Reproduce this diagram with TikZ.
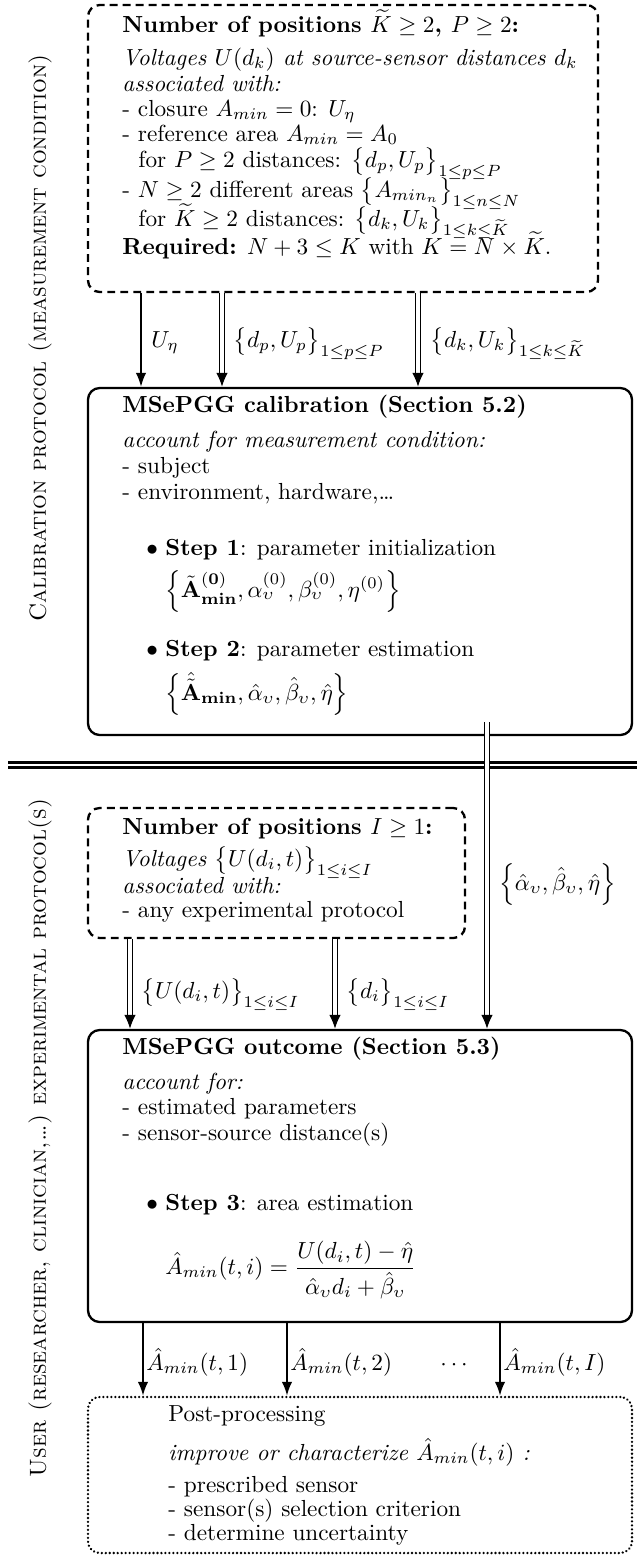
\documentclass[tikz,border=0pt]{standalone}
\usepackage{amsmath,amssymb}
\usetikzlibrary{arrows.meta,fit,calc}
\begin{document}
\begin{tikzpicture}[x=0.43pt,y=-0.43pt,
 dashbox/.style={draw, line width=1pt, dash pattern=on 3.4pt off 2.2pt, rounded corners=5pt, inner sep=0pt},
 solidbox/.style={draw, line width=1pt, rounded corners=5pt, inner sep=0pt},
 dotbox/.style={draw, line width=1.1pt, dash pattern=on 0.01pt off 1.7pt, line cap=round, rounded corners=5pt, inner sep=0pt},
 txt/.style={anchor=base west, inner sep=0pt},
 arr/.style={line width=0.8pt, -{Latex[length=6pt,width=4.5pt]}},
 dbl/.style={double, double distance=1.3pt, line width=0.65pt, -{Latex[length=6pt,width=5pt]}},
 sepline/.style={double, double distance=1pt, line width=1.2pt},
 side/.style={rotate=90, inner sep=0pt}]
\useasboundingbox (0,0) rectangle (637,1557);

% ---------- boxes ----------
\node[dashbox, fit={(88,5) (598,292)}] (top) {};
\node[solidbox, fit={(88,388) (632,735)}] (calib) {};
\node[dashbox, fit={(88,808) (465,938)}] (exp) {};
\node[solidbox, fit={(88,1030) (632,1322)}] (out) {};
\node[dotbox, fit={(88,1397) (632,1553)}] (post) {};

% ---------- side labels ----------
\node[side] (s1) at (40,338) {\textsc{Calibration protocol (measurement condition)}};
\node[side] (s2) at (40,1138) {\textsc{User (researcher, clinician,\dots) experimental protocol(s)}};

% ---------- top box text ----------
\node[txt] (t1) at (122,32) {\textbf{Number of positions $\widetilde{K}\geq 2$, $P\geq 2$:}};
\node[txt] (t2) at (122,65) {\textit{Voltages $U(d_k)$ at source-sensor distances $d_k$}};
\node[txt] (t3) at (122,91) {\textit{associated with:}};
\node[txt] (t4) at (122,116) {- closure $A_{min}=0$: $U_\eta$};
\node[txt] (t5) at (122,141) {- reference area $A_{min}=A_0$};
\node[txt] (t6) at (138,167) {for $P\geq 2$ distances: $\bigl\{d_p,U_p\bigr\}_{1\leq p\leq P}$};
\node[txt] (t7) at (122,197) {- $N\geq 2$ different areas $\bigl\{A_{min_n}\bigr\}_{1\leq n\leq N}$};
\node[txt] (t8) at (138,226) {for $\widetilde{K}\geq 2$ distances: $\bigl\{d_k,U_k\bigr\}_{1\leq k\leq \widetilde{K}}$};
\node[txt] (t9) at (122,254) {\textbf{Required:} $N+3\leq K$ with $K=N\times\widetilde{K}$.};

% ---------- calibration box text ----------
\node[txt] (c1) at (122,412) {\textbf{MSePGG calibration (Section 5.2)}};
\node[txt] (c2) at (122,447) {\textit{account for measurement condition:}};
\node[txt] (c3) at (122,473) {- subject};
\node[txt] (c4) at (122,499) {- environment, hardware,\dots};
\node[txt] (c5b) at (146,555) {$\bullet$};
\node[txt] (c5) at (165,555) {\textbf{Step 1}: parameter initialization};
\node[txt] (c6) at (165,597) {$\left\{\tilde{\mathbf{A}}^{\mathbf{(0)}}_{\mathbf{min}},\alpha_\upsilon^{(0)},\beta_\upsilon^{(0)},\eta^{(0)}\right\}$};
\node[txt] (c7b) at (146,656) {$\bullet$};
\node[txt] (c7) at (165,656) {\textbf{Step 2}: parameter estimation};
\node[txt] (c8) at (165,700) {$\left\{\hat{\tilde{\mathbf{A}}}_{\mathbf{min}},\hat\alpha_\upsilon,\hat\beta_\upsilon,\hat\eta\right\}$};

% ---------- experimental box text ----------
\node[txt] (e1) at (122,834) {\textbf{Number of positions $I\geq 1$:}};
\node[txt] (e2) at (122,866) {\textit{Voltages $\bigl\{U(d_i,t)\bigr\}_{1\leq i\leq I}$}};
\node[txt] (e3) at (122,893) {\textit{associated with:}};
\node[txt] (e4) at (122,917) {- any experimental protocol};

% ---------- outcome box text ----------
\node[txt] (o1) at (122,1054) {\textbf{MSePGG outcome (Section 5.3)}};
\node[txt] (o2) at (122,1089) {\textit{account for:}};
\node[txt] (o3) at (122,1114) {- estimated parameters};
\node[txt] (o4) at (122,1140) {- sensor-source distance(s)};
\node[txt] (o5b) at (146,1210) {$\bullet$};
\node[txt] (o5) at (165,1210) {\textbf{Step 3}: area estimation};
\node[anchor=west, inner sep=0pt] (o6) at (165,1270) {$\hat{A}_{min}(t,i)=\dfrac{U(d_i,t)-\hat\eta}{\hat\alpha_\upsilon d_i+\hat\beta_\upsilon}$};

% ---------- post-processing box text ----------
\node[txt] (p1) at (168,1421) {Post-processing};
\node[txt] (p2) at (168,1460) {\textit{improve or characterize $\hat{A}_{min}(t,i)$ :}};
\node[txt] (p3) at (168,1492) {- prescribed sensor};
\node[txt] (p4) at (168,1516) {- sensor(s) selection criterion};
\node[txt] (p5) at (168,1540) {- determine uncertainty};

% ---------- connector columns ----------
\coordinate (a1) at (141,0);
\coordinate (a2) at (222,0);
\coordinate (a3) at (418,0);
\coordinate (b1) at (130,0);
\coordinate (b2) at (335,0);
\coordinate (cx) at (487,0);
\coordinate (d1) at (143,0);
\coordinate (d2) at (287,0);
\coordinate (d3) at (500,0);
\coordinate (sl) at (8,765);
\coordinate (sr) at (637,765);

% separator
\draw[sepline] (sl) -- (sr);

% top -> calibration
\draw[arr] (top.south -| a1) -- (calib.north -| a1);
\draw[dbl] (top.south -| a2) -- (calib.north -| a2);
\draw[dbl] (top.south -| a3) -- (calib.north -| a3);
\node[txt] (l1) at (151,347) {$U_\eta$};
\node[txt] (l2) at (233,347) {$\bigl\{d_p,U_p\bigr\}_{1\leq p\leq P}$};
\node[txt] (l3) at (430,347) {$\bigl\{d_k,U_k\bigr\}_{1\leq k\leq \widetilde{K}}$};

% calibration -> outcome
\draw[dbl] ($(calib.south -| cx)+(0,-14)$) -- (out.north -| cx);
\node[txt] (l4) at (499,890) {$\left\{\hat\alpha_\upsilon,\hat\beta_\upsilon,\hat\eta\right\}$};

% experimental -> outcome
\draw[dbl] (exp.south -| b1) -- (out.north -| b1);
\draw[dbl] (exp.south -| b2) -- (out.north -| b2);
\node[txt] (l5) at (141,998) {$\bigl\{U(d_i,t)\bigr\}_{1\leq i\leq I}$};
\node[txt] (l6) at (346,998) {$\bigl\{d_i\bigr\}_{1\leq i\leq I}$};

% outcome -> post
\draw[arr] (out.south -| d1) -- (post.north -| d1);
\draw[arr] (out.south -| d2) -- (post.north -| d2);
\draw[arr] (out.south -| d3) -- (post.north -| d3);
\node[txt] (l7) at (146,1370) {$\hat{A}_{min}(t,1)$};
\node[txt] (l8) at (290,1370) {$\hat{A}_{min}(t,2)$};
\node[txt] (l9) at (440,1370) {$\cdots$};
\node[txt] (l10) at (503,1370) {$\hat{A}_{min}(t,I)$};
\end{tikzpicture}
\end{document}
